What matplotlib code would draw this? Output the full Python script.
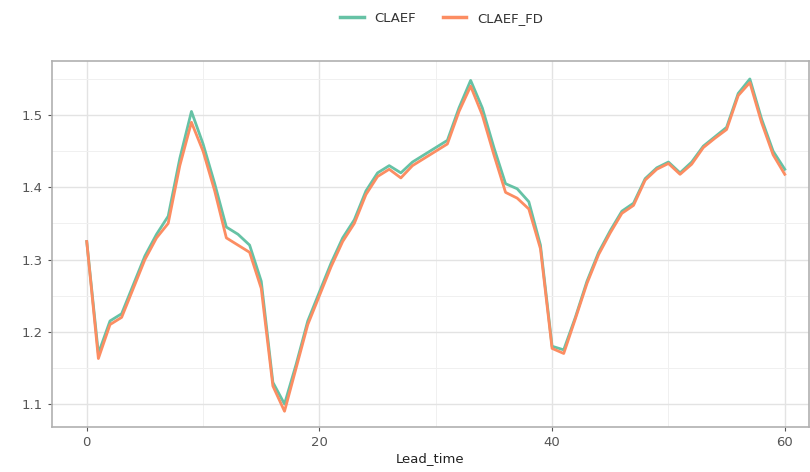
import matplotlib.pyplot as plt
import numpy as np

# данные
lead_time = np.arange(0, 61)
claef = [1.325, 1.17, 1.215, 1.225, 1.265, 1.305, 1.335, 1.36, 1.44, 1.505,
         1.46, 1.405, 1.345, 1.335, 1.32, 1.27, 1.13, 1.10, 1.155, 1.215,
         1.255, 1.295, 1.33, 1.355, 1.395, 1.42, 1.43, 1.42, 1.435, 1.445,
         1.455, 1.465, 1.51, 1.548, 1.51, 1.455, 1.405, 1.398, 1.38, 1.32,
         1.18, 1.175, 1.22, 1.27, 1.31, 1.34, 1.367, 1.378, 1.412, 1.427,
         1.435, 1.42, 1.435, 1.457, 1.47, 1.483, 1.53, 1.55, 1.495, 1.45,
         1.425]
claef_fd = [1.325, 1.163, 1.21, 1.22, 1.26, 1.30, 1.33, 1.35, 1.43, 1.49,
            1.45, 1.395, 1.33, 1.32, 1.31, 1.26, 1.125, 1.09, 1.15, 1.21,
            1.25, 1.29, 1.325, 1.35, 1.39, 1.415, 1.425, 1.413, 1.43, 1.44,
            1.45, 1.46, 1.505, 1.54, 1.50, 1.445, 1.393, 1.385, 1.37, 1.315,
            1.177, 1.17, 1.218, 1.267, 1.307, 1.337, 1.364, 1.375, 1.41, 1.425,
            1.433, 1.418, 1.432, 1.455, 1.468, 1.48, 1.527, 1.545, 1.49, 1.445,
            1.418]

fig = plt.figure(figsize=(8.1, 4.72), dpi=100)
ax = fig.add_axes([0.064, 0.095, 0.935, 0.776])

ax.plot(lead_time, claef, color='#66C2A5', lw=2, label='CLAEF')
ax.plot(lead_time, claef_fd, color='#FC8D62', lw=2, label='CLAEF_FD')

ax.set_xlim(-3, 62.1)
ax.set_ylim(1.068, 1.575)
ax.set_xticks([0, 20, 40, 60])
ax.set_yticks([1.1, 1.2, 1.3, 1.4, 1.5])
ax.set_xticks([10, 30, 50], minor=True)
ax.set_yticks([1.15, 1.25, 1.35, 1.45, 1.55], minor=True)
ax.grid(which='major', color='#e3e3e3', lw=1)
ax.grid(which='minor', color='#f0f0f0', lw=0.7)
ax.set_axisbelow(True)
for s in ax.spines.values():
    s.set_color('#b0b0b0')
    s.set_linewidth(1.2)
ax.tick_params(which='major', colors='#555555', labelsize=9.5, length=3)
ax.tick_params(which='minor', length=0)
ax.set_xlabel('Lead_time', fontsize=9.5, color='#222222', labelpad=2)

leg = fig.legend(loc='upper center', bbox_to_anchor=(0.545, 1.0), ncol=2, frameon=False,
                 fontsize=9.5, handlelength=1.8, columnspacing=2.0)
for t in leg.get_texts():
    t.set_color('#333333')
for l in leg.get_lines():
    l.set_linewidth(2.5)
fig.savefig('out.png', dpi=100)
